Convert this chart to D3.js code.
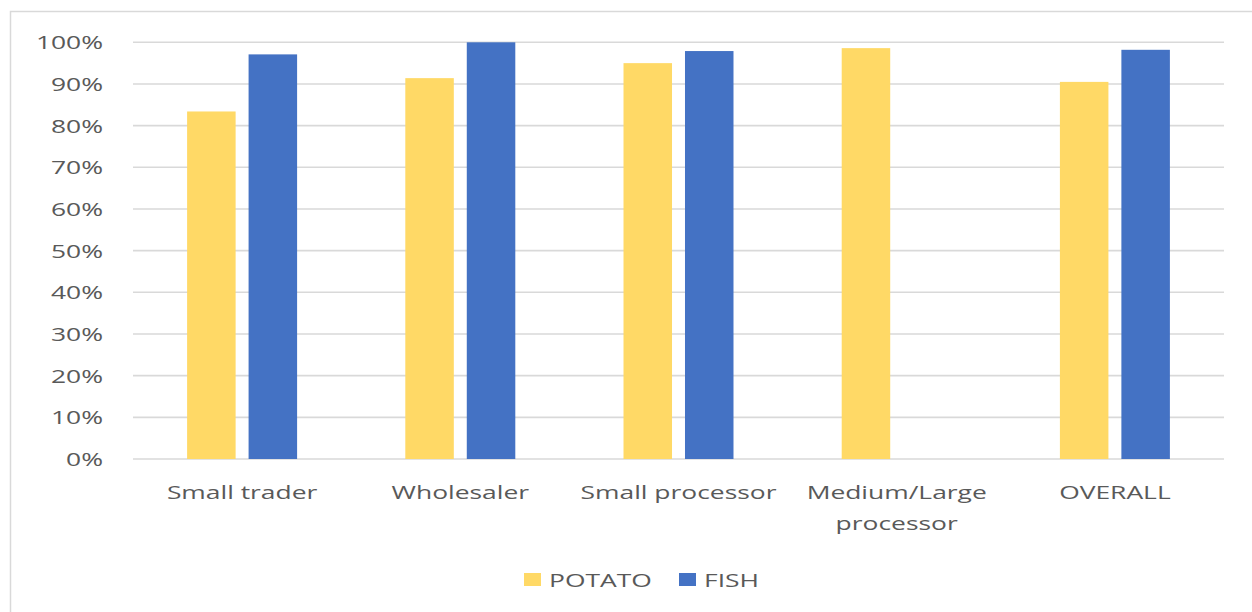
<!DOCTYPE html>
<html>
<head>
<meta charset="utf-8">
<script src="https://cdn.jsdelivr.net/npm/d3@7"></script>
<style>
  body { margin: 0; background: #fff; }
  text { font-family: "Open Sans", sans-serif; fill: #595959; }
</style>
</head>
<body>
<div class="chart"></div>
<script>
var categories = ["Small trader", "Wholesaler", "Small processor", "Medium/Large processor", "OVERALL"];
var seriesNames = ["POTATO", "FISH"];
var potato = [0.834, 0.914, 0.950, 0.986, 0.905];
var fish = [0.971, 1.0, 0.979, null, 0.982];
var yTicks = [0, 0.1, 0.2, 0.3, 0.4, 0.5, 0.6, 0.7, 0.8, 0.9, 1.0];
var colors = ["#FFD966", "#4472C4"];

var svgWidth = 1252;
var svgHeight = 612;
var margin = { top: 42.3, right: 28, bottom: 153, left: 133 };
var width = svgWidth - margin.left - margin.right;
var height = svgHeight - margin.top - margin.bottom;
var fontSize = 19;
var sx = 1.39; // text in the reference is stretched sideways

var svg = d3.select(".chart")
  .append("svg")
    .attr("width", svgWidth)
    .attr("height", svgHeight);

// chart frame (only left and top edges are visible)
svg.append("rect")
  .attr("x", 10.5).attr("y", 11.5)
  .attr("width", 1400).attr("height", 800)
  .attr("fill", "none")
  .attr("stroke", "#D9D9D9")
  .attr("stroke-width", 1.5);

var chart = svg.append("g")
  .attr("transform", "translate(" + margin.left + "," + margin.top + ")");

var x0 = d3.scaleBand().domain(categories).range([0, width]).padding(0);
var x1 = d3.scaleBand().domain(seriesNames).range([0, x0.bandwidth()])
  .paddingInner(0.211).paddingOuter(0.88);
var y = d3.scaleLinear().domain([0, 1]).range([height, 0]);

// gridlines
chart.selectAll(".grid")
  .data(yTicks)
  .enter().append("line")
    .attr("x1", 0).attr("x2", width)
    .attr("y1", function(d) { return y(d); })
    .attr("y2", function(d) { return y(d); })
    .attr("stroke", "#D9D9D9")
    .attr("stroke-width", 1.6);

// y tick labels
chart.selectAll(".ytick")
  .data(yTicks)
  .enter().append("text")
    .attr("transform", function(d) { return "translate(-30," + (y(d) + 7) + ") scale(" + sx + ",1)"; })
    .attr("text-anchor", "end")
    .attr("font-size", fontSize)
    .text(d3.format(".0%"));

// bars
var rows = categories.map(function(c, i) {
  return { cat: c, values: [potato[i], fish[i]] };
});

var groups = chart.selectAll(".group")
  .data(rows)
  .enter().append("g")
    .attr("transform", function(d) { return "translate(" + x0(d.cat) + ",0)"; });

groups.selectAll("rect")
  .data(function(d) {
    return d.values.map(function(v, j) { return { key: seriesNames[j], value: v, color: colors[j] }; })
      .filter(function(e) { return e.value != null; });
  })
  .enter().append("rect")
    .attr("x", function(d) { return x1(d.key); })
    .attr("y", function(d) { return y(d.value); })
    .attr("width", x1.bandwidth())
    .attr("height", function(d) { return height - y(d.value); })
    .attr("fill", function(d) { return d.color; });

// x labels (wrap long ones)
var xLabelLines = {
  "Medium/Large processor": ["Medium/Large", "processor"]
};
categories.forEach(function(c) {
  var lines = xLabelLines[c] || [c];
  lines.forEach(function(line, k) {
    chart.append("text")
      .attr("transform", "translate(" + (x0(c) + x0.bandwidth() / 2) + "," + (height + 39.5 + k * 31) + ") scale(" + sx + ",1)")
      .attr("text-anchor", "middle")
      .attr("font-size", fontSize)
      .text(line);
  });
});

// legend
var legendItems = [
  { name: seriesNames[0], color: colors[0], x: 524 },
  { name: seriesNames[1], color: colors[1], x: 679 }
];
var legend = svg.selectAll(".legend")
  .data(legendItems)
  .enter().append("g")
    .attr("transform", function(d) { return "translate(" + d.x + ",573)"; });

legend.append("rect")
  .attr("width", 17).attr("height", 13)
  .attr("fill", function(d) { return d.color; });

legend.append("text")
  .attr("transform", "translate(25,14) scale(" + sx + ",1)")
  .attr("font-size", fontSize)
  .text(function(d) { return d.name; });
</script>
</body>
</html>
